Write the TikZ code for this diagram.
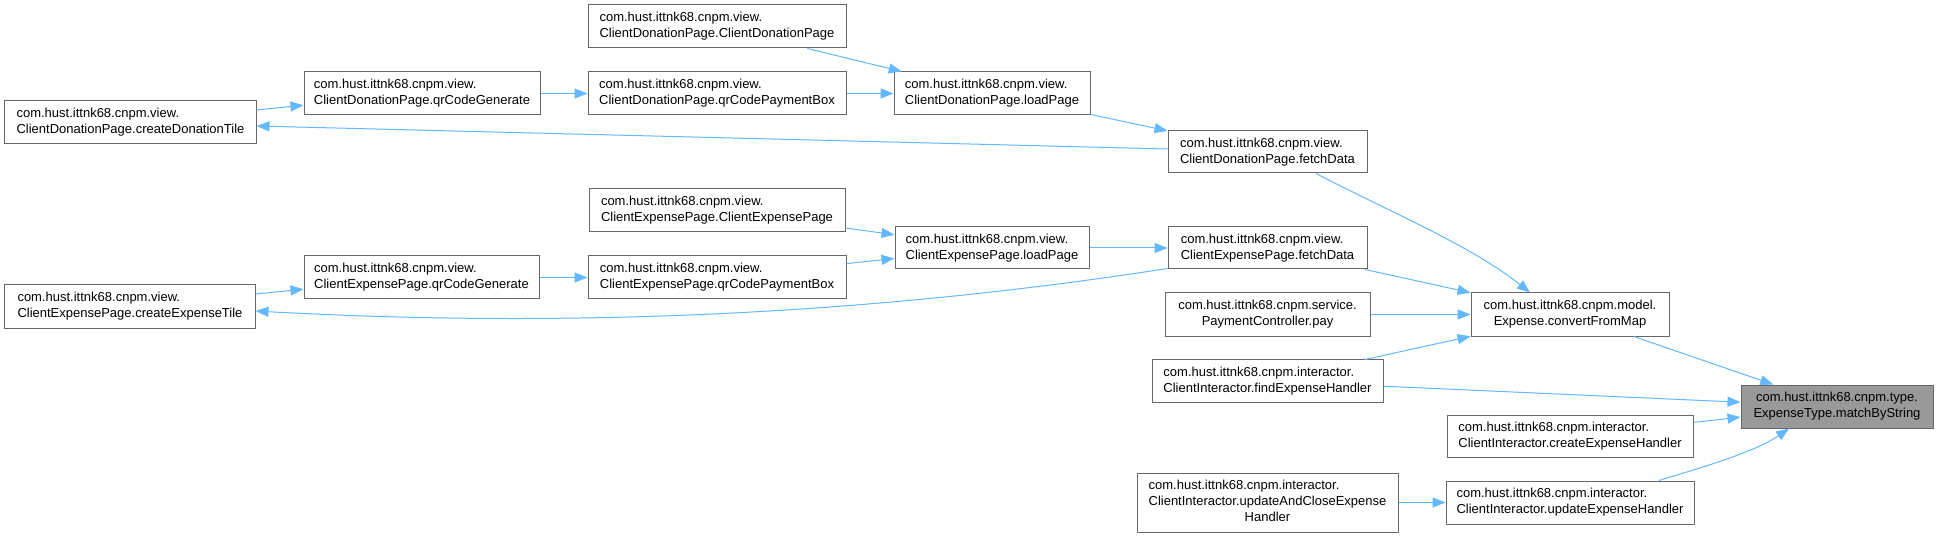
\documentclass[tikz,border=0pt]{standalone}
\usepackage{fontspec}
\setmainfont{Liberation Sans}
\usetikzlibrary{arrows.meta}
\definecolor{edgeblue}{HTML}{63B8FF}
\definecolor{boxborder}{HTML}{666666}
\definecolor{hilite}{HTML}{999999}
\begin{document}
\begin{tikzpicture}[x=1bp,y=-1bp,
  nbox/.style={draw=boxborder, line width=1bp, fill=white, align=left, inner sep=2bp,
    font=\fontsize{13bp}{16bp}\selectfont, text=black, minimum height=43bp},
  cbox/.style={nbox, align=center},
  hbox/.style={cbox, fill=hilite},
  call/.style={draw=edgeblue, line width=1bp, -{Triangle[length=13bp,width=10bp]}}]
\useasboundingbox (0,0) rectangle (1938,537);
\fill[white] (0,0) rectangle (1938,537);

\node[nbox, minimum width=251bp] (cdTile) at (130.5,122.5) {com.hust.ittnk68.cnpm.view.\\ClientDonationPage.createDonationTile};
\node[nbox, minimum width=236bp] (cdQrGen) at (422,93.5) {com.hust.ittnk68.cnpm.view.\\ClientDonationPage.qrCodeGenerate};
\node[nbox, minimum width=258bp] (cdCtor) at (717,26.5) {com.hust.ittnk68.cnpm.view.\\ClientDonationPage.ClientDonationPage};
\node[nbox, minimum width=258bp] (cdQrPay) at (717,93.5) {com.hust.ittnk68.cnpm.view.\\ClientDonationPage.qrCodePaymentBox};
\node[nbox, minimum width=196bp] (cdLoad) at (992,93.5) {com.hust.ittnk68.cnpm.view.\\ClientDonationPage.loadPage};
\node[nbox, minimum width=199bp, minimum height=42bp] (cdFetch) at (1267.5,152) {com.hust.ittnk68.cnpm.view.\\ClientDonationPage.fetchData};

\node[nbox, minimum width=250bp] (ceTile) at (130,306.5) {com.hust.ittnk68.cnpm.view.\\ClientExpensePage.createExpenseTile};
\node[nbox, minimum width=235bp] (ceQrGen) at (421.5,277.5) {com.hust.ittnk68.cnpm.view.\\ClientExpensePage.qrCodeGenerate};
\node[nbox, minimum width=256bp] (ceCtor) at (717,210.5) {com.hust.ittnk68.cnpm.view.\\ClientExpensePage.ClientExpensePage};
\node[nbox, minimum width=258bp] (ceQrPay) at (717,277.5) {com.hust.ittnk68.cnpm.view.\\ClientExpensePage.qrCodePaymentBox};
\node[nbox, minimum width=194bp, minimum height=42bp] (ceLoad) at (992,248) {com.hust.ittnk68.cnpm.view.\\ClientExpensePage.loadPage};
\node[nbox, minimum width=199bp, minimum height=42bp] (ceFetch) at (1267.5,248) {com.hust.ittnk68.cnpm.view.\\ClientExpensePage.fetchData};

\node[cbox, minimum width=205bp] (pay) at (1267.5,314.5) {com.hust.ittnk68.cnpm.service.\\PaymentController.pay};
\node[nbox, minimum width=231bp, minimum height=42bp] (find) at (1267.5,381) {com.hust.ittnk68.cnpm.interactor.\\ClientInteractor.findExpenseHandler};
\node[nbox, minimum width=261bp, minimum height=59bp] (updClose) at (1267.5,502.5) {\begin{tabular}{@{}l@{}}com.hust.ittnk68.cnpm.interactor.\\ClientInteractor.updateAndCloseExpense\\\multicolumn{1}{@{}c@{}}{Handler}\end{tabular}};

\node[cbox, minimum width=198bp] (conv) at (1570,314.5) {com.hust.ittnk68.cnpm.model.\\Expense.convertFromMap};
\node[nbox, minimum width=246bp, minimum height=42bp] (create) at (1570,436) {com.hust.ittnk68.cnpm.interactor.\\ClientInteractor.createExpenseHandler};
\node[nbox, minimum width=248bp] (upd) at (1570,502.5) {com.hust.ittnk68.cnpm.interactor.\\ClientInteractor.updateExpenseHandler};

\node[hbox, minimum width=192bp] (match) at (1837,406.5) {com.hust.ittnk68.cnpm.type.\\ExpenseType.matchByString};

% donation branch
\draw[call] (cdCtor) -- (cdLoad);
\draw[call] (cdQrPay) -- (cdLoad);
\draw[call] (cdQrGen) -- (cdQrPay);
\draw[call] (cdTile) -- (cdQrGen);
\draw[call] (cdLoad) -- (cdFetch);
\draw[call] ([yshift=3bp]cdFetch.west) -- ([yshift=-3.5bp]cdTile.east);
\draw[call] ([xshift=48.5bp]cdFetch.south) .. controls (1390,212) and (1470,245) .. ([xshift=-40bp]conv.north);

% expense branch
\draw[call] (ceCtor) -- (ceLoad);
\draw[call] (ceQrPay) -- (ceLoad);
\draw[call] (ceQrGen) -- (ceQrPay);
\draw[call] (ceTile) -- (ceQrGen);
\draw[call] (ceLoad) -- (ceFetch);
\draw[call] ([yshift=1bp]ceFetch.south west) .. controls (900,310) and (600,330) .. ([yshift=-4.5bp]ceTile.east);
\draw[call] (ceFetch) -- (conv);

% right part
\draw[call] (pay) -- (conv);
\draw[call] (find) -- (conv);
\draw[call] (conv) -- (match);
\draw[call] (find) -- (match);
\draw[call] (create) -- (match);
\draw[call] ([xshift=89bp]upd.north) .. controls (1700,468) and (1755,452) .. ([xshift=-48bp]match.south);
\draw[call] (updClose) -- (upd);
\end{tikzpicture}
\end{document}
